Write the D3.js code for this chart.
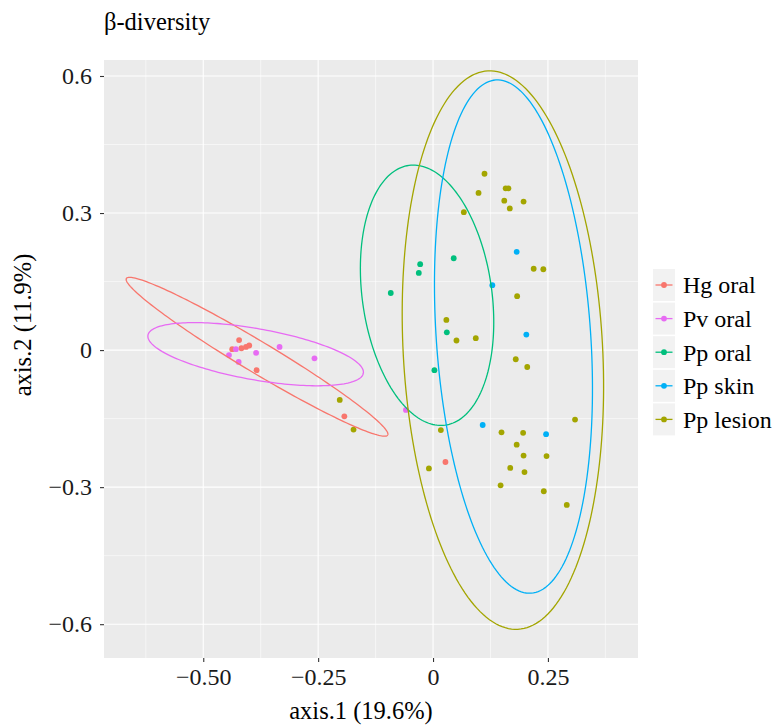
<!DOCTYPE html>
<html><head><meta charset="utf-8">
<script src="https://cdn.jsdelivr.net/npm/d3@7"></script>
<style>body{margin:0;background:#fff}</style>
</head><body>
<script>
// ---- data ----
const groups = ["Hg oral", "Pv oral", "Pp oral", "Pp skin", "Pp lesion"];
const colors = ["#F8766D", "#E76BF3", "#00BF7D", "#00B0F6", "#A3A500"];

const hgX = [-0.422, -0.437, -0.417, -0.407, -0.400, -0.384, -0.193, 0.027];
const hgY = [0.022, 0.002, 0.004, 0.007, 0.010, -0.044, -0.145, -0.245];
const pvX = [-0.429, -0.444, -0.423, -0.385, -0.334, -0.258, -0.059];
const pvY = [0.002, -0.011, -0.026, -0.006, 0.007, -0.018, -0.131];
const ppOralX = [-0.028, -0.031, 0.045, -0.092, 0.030, 0.003];
const ppOralY = [0.188, 0.169, 0.201, 0.125, 0.039, -0.044];
const ppSkinX = [0.182, 0.129, 0.203, 0.108, 0.246];
const ppSkinY = [0.215, 0.142, 0.034, -0.164, -0.184];
const ppLesionX = [0.112, 0.099, 0.158, 0.164, 0.155, 0.197, 0.167, 0.067, 0.219, 0.240, 0.183, 0.029, 0.051, 0.093,
  0.180, 0.205, 0.017, 0.149, 0.196, 0.309, 0.182, 0.197, 0.247, 0.168, 0.199, -0.009, 0.147, 0.241, 0.291, -0.203, -0.173];
const ppLesionY = [0.386, 0.344, 0.354, 0.354, 0.327, 0.325, 0.310, 0.302, 0.178, 0.177, 0.118, 0.066, 0.021, 0.026,
  -0.020, -0.037, -0.175, -0.180, -0.181, -0.152, -0.207, -0.231, -0.232, -0.258, -0.267, -0.259, -0.296, -0.309, -0.339, -0.109, -0.174];

// 95% ellipses (centre, semi-axes, angle in degrees), per group
const ellCx = [-0.383, -0.386, -0.013, 0.175, 0.152];
const ellCy = [-0.0146, -0.009, 0.120, 0.0296, 0.000];
const ellA = [0.332, 0.238, 0.287, 0.563, 0.612];
const ellB = [0.034, 0.056, 0.141, 0.168, 0.217];
const ellAngle = [-31.1, -10.1, 97.9, 93.9, 93.05];

const xTicks = [-0.5, -0.25, 0, 0.25];
const xTickLabels = ["\u22120.50", "\u22120.25", "0", "0.25"];
const xMinor = [-0.625, -0.375, -0.125, 0.125, 0.375];
const yTicks = [-0.6, -0.3, 0, 0.3, 0.6];
const yTickLabels = ["\u22120.6", "\u22120.3", "0", "0.3", "0.6"];
const yMinor = [-0.45, -0.15, 0.15, 0.45];

const pointSets = [[hgX, hgY], [pvX, pvY], [ppOralX, ppOralY], [ppSkinX, ppSkinY], [ppLesionX, ppLesionY]];

// ---- layout ----
const W = 773, H = 725;
const pl = 104, pr = 638, pt = 60, pb = 658;
const font = "'Liberation Serif', 'Times New Roman', serif";

const svg = d3.select("body").append("svg").attr("width", W).attr("height", H)
  .style("font-family", font);

const x = d3.scaleLinear().domain([-0.716, 0.446]).range([pl, pr]);
const y = d3.scaleLinear().domain([-0.674, 0.635]).range([pb, pt]);

svg.append("rect").attr("x", pl).attr("y", pt).attr("width", pr - pl).attr("height", pb - pt).attr("fill", "#EBEBEB");

const grid = svg.append("g");
grid.selectAll(".xm").data(xMinor).join("line").attr("x1", d => x(d)).attr("x2", d => x(d))
  .attr("y1", pt).attr("y2", pb).attr("stroke", "#fff").attr("stroke-width", 0.55);
grid.selectAll(".ym").data(yMinor).join("line").attr("y1", d => y(d)).attr("y2", d => y(d))
  .attr("x1", pl).attr("x2", pr).attr("stroke", "#fff").attr("stroke-width", 0.55);
grid.selectAll(".xM").data(xTicks).join("line").attr("x1", d => x(d)).attr("x2", d => x(d))
  .attr("y1", pt).attr("y2", pb).attr("stroke", "#fff").attr("stroke-width", 1.1);
grid.selectAll(".yM").data(yTicks).join("line").attr("y1", d => y(d)).attr("y2", d => y(d))
  .attr("x1", pl).attr("x2", pr).attr("stroke", "#fff").attr("stroke-width", 1.1);

// axes
const xAxis = d3.axisBottom(x).tickValues(xTicks).tickFormat((d, i) => xTickLabels[i]).tickSize(4).tickPadding(4);
const gx = svg.append("g").attr("transform", `translate(0,${pb})`).call(xAxis);
gx.select(".domain").remove();
gx.selectAll("line").attr("stroke", "#333").attr("stroke-width", 1.1);
gx.selectAll("text").attr("fill", "#1a1a1a").style("font-size", "24px").style("font-family", font).attr("dy", "0.8em");

const yAxis = d3.axisLeft(y).tickValues(yTicks).tickFormat((d, i) => yTickLabels[i]).tickSize(4).tickPadding(8);
const gy = svg.append("g").attr("transform", `translate(${pl},0)`).call(yAxis);
gy.select(".domain").remove();
gy.selectAll("line").attr("stroke", "#333").attr("stroke-width", 1.1);
gy.selectAll("text").attr("fill", "#1a1a1a").style("font-size", "24px").style("font-family", font);

// points
groups.forEach((g, i) => {
  const [xs, ys] = pointSets[i];
  svg.append("g").selectAll("circle").data(xs).join("circle")
    .attr("cx", d => x(d)).attr("cy", (d, j) => y(ys[j])).attr("r", 2.9)
    .attr("fill", colors[i]);
});

// ellipses
const line = d3.line().x(d => x(d[0])).y(d => y(d[1]));
groups.forEach((g, i) => {
  const th = ellAngle[i] * Math.PI / 180;
  const pts = d3.range(0, 201).map(k => {
    const t = k / 200 * 2 * Math.PI;
    const u = ellA[i] * Math.cos(t), v = ellB[i] * Math.sin(t);
    return [ellCx[i] + u * Math.cos(th) - v * Math.sin(th), ellCy[i] + u * Math.sin(th) + v * Math.cos(th)];
  });
  svg.append("path").attr("d", line(pts)).attr("fill", "none").attr("stroke", colors[i]).attr("stroke-width", 1.3);
});

// titles
svg.append("text").attr("x", pl).attr("y", 30).text("\u03b2-diversity")
  .style("font-size", "24.5px").attr("fill", "#000");
svg.append("text").attr("x", 361).attr("y", 719).attr("text-anchor", "middle")
  .text("axis.1 (19.6%)").style("font-size", "24.5px").attr("fill", "#000");
svg.append("text").attr("transform", `translate(31,325) rotate(-90)`).attr("text-anchor", "middle")
  .text("axis.2 (11.9%)").style("font-size", "24.5px").attr("fill", "#000");

// legend
const lg = svg.append("g");
groups.forEach((g, i) => {
  const cy = 285 + i * 33.6;
  lg.append("rect").attr("x", 653).attr("y", cy - 16).attr("width", 22).attr("height", 32).attr("fill", "#F2F2F2");
  lg.append("line").attr("x1", 655.5).attr("x2", 672.5).attr("y1", cy).attr("y2", cy).attr("stroke", colors[i]).attr("stroke-width", 1.3);
  lg.append("circle").attr("cx", 664).attr("cy", cy).attr("r", 2.9).attr("fill", colors[i]);
  lg.append("text").attr("x", 683).attr("y", cy).attr("dy", "0.35em").text(g).style("font-size", "24px").attr("fill", "#000");
});
</script>
</body></html>
